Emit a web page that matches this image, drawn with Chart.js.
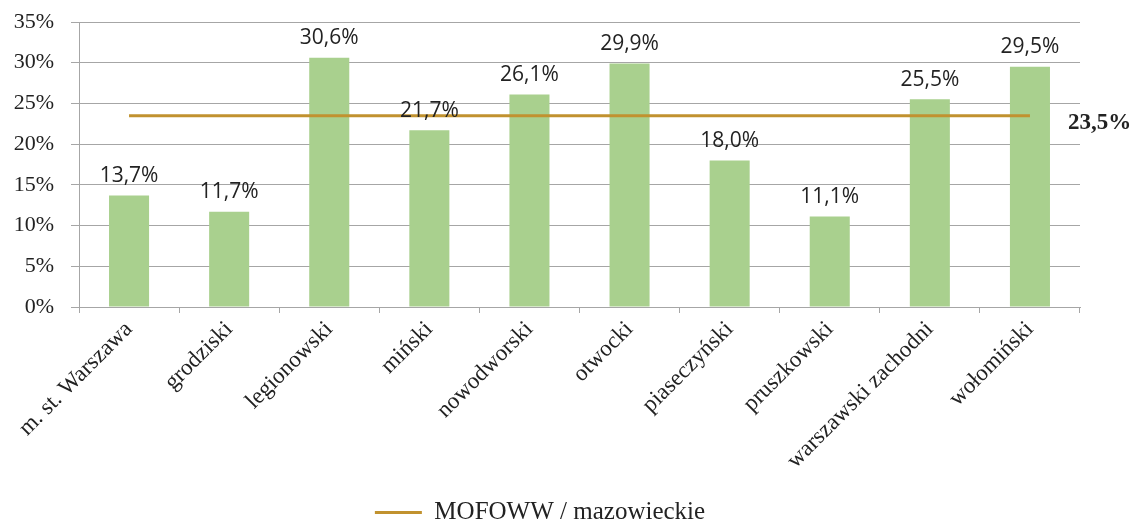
<!DOCTYPE html>
<html lang="pl">
<head>
    <meta charset="UTF-8">
    <title>MOFOWW</title>
    <script src="https://cdn.jsdelivr.net/npm/chart.js"></script>
    <style>
        html, body { margin: 0; padding: 0; background: #ffffff; overflow: hidden; }
    </style>
</head>
<body>
    <canvas id="mainChart" width="1140" height="523"></canvas>

    <script>
const categories = ['m. st. Warszawa', 'grodziski', 'legionowski', 'miński', 'nowodworski',
    'otwocki', 'piaseczyński', 'pruszkowski', 'warszawski zachodni', 'wołomiński'];
const shares = [13.7, 11.7, 30.6, 21.7, 26.1, 29.9, 18.0, 11.1, 25.5, 29.5];
const regionLabel = 'MOFOWW / mazowieckie';
const regionValue = 23.5;
const regionLine = categories.map(() => regionValue);

const fmt = v => v.toFixed(1).replace('.', ',') + '%';

const valueLabels = {
    id: 'valueLabels',
    afterDatasetsDraw(chart) {
        const ctx = chart.ctx;
        const bars = chart.getDatasetMeta(0).data;
        ctx.save();
        ctx.font = '21px "Open Sans", sans-serif';
        ctx.fillStyle = '#222';
        ctx.textAlign = 'center';
        ctx.textBaseline = 'bottom';
        bars.forEach((bar, i) => {
            ctx.fillText(fmt(shares[i]), bar.x, bar.y - 9);
        });

        // label for the regional average, right of the line
        const pts = chart.getDatasetMeta(1).data;
        const last = pts[pts.length - 1];
        ctx.font = 'bold 23px "Liberation Serif", serif';
        ctx.textAlign = 'left';
        ctx.textBaseline = 'middle';
        ctx.fillText(fmt(regionValue), last.x + 38, last.y + 7);
        ctx.restore();
    }
};

const ctx = document.getElementById('mainChart').getContext('2d');
new Chart(ctx, {
    data: {
        labels: categories,
        datasets: [
            {
                type: 'bar',
                label: 'powiaty',
                data: shares,
                backgroundColor: '#a9d08e',
                barPercentage: 0.4,
                categoryPercentage: 1,
                order: 1
            },
            {
                type: 'line',
                label: regionLabel,
                data: regionLine,
                borderColor: '#c1922f',
                backgroundColor: '#c1922f',
                borderWidth: 3,
                pointRadius: 0,
                pointStyle: 'line',
                order: 0
            }
        ]
    },
    options: {
        responsive: false,
        animation: false,
        layout: { padding: { left: 0, right: 60, top: 22, bottom: -12 } },
        plugins: {
            tooltip: { enabled: false },
            legend: {
                position: 'bottom',
                labels: {
                    filter: item => item.datasetIndex === 1,
                    usePointStyle: true,
                    pointStyleWidth: 47,
                    color: '#222',
                    font: { family: '"Liberation Serif", serif', size: 25, lineHeight: 1 },
                    padding: 0
                }
            }
        },
        scales: {
            x: {
                afterFit: s => { s.height = 193; },
                grid: {
                    display: true,
                    drawOnChartArea: false,
                    drawTicks: true,
                    tickLength: 6,
                    color: '#a6a6a6'
                },
                border: { color: '#a6a6a6' },
                ticks: {
                    minRotation: 45,
                    maxRotation: 45,
                    autoSkip: false,
                    color: '#222',
                    font: { family: '"Liberation Serif", serif', size: 23 }
                }
            },
            y: {
                min: 0,
                max: 35,
                afterFit: s => { s.width = 79; s.paddingTop = 0; s.paddingBottom = 0; },
                grid: { color: '#a6a6a6', tickLength: 8 },
                border: { color: '#a6a6a6' },
                ticks: {
                    stepSize: 5,
                    color: '#222',
                    padding: 17,
                    font: { family: '"Liberation Serif", serif', size: 22 },
                    callback: v => v + '%'
                }
            }
        }
    },
    plugins: [valueLabels]
});
    </script>
</body>
</html>
